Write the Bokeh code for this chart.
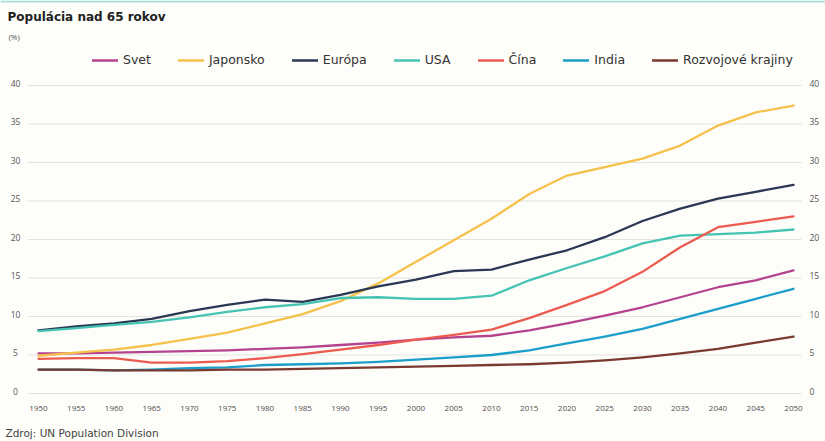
from bokeh.plotting import figure
from bokeh.models import Range1d, Legend, LegendItem, Label
from bokeh.core.properties import value
from bokeh.embed import file_html
from bokeh.resources import INLINE

# ---------------- data ----------------
years = [1950, 1955, 1960, 1965, 1970, 1975, 1980, 1985, 1990, 1995, 2000,
         2005, 2010, 2015, 2020, 2025, 2030, 2035, 2040, 2045, 2050]
svet = [5.2, 5.2, 5.3, 5.4, 5.5, 5.6, 5.8, 6.0, 6.3, 6.6, 7.0,
        7.3, 7.5, 8.2, 9.1, 10.1, 11.2, 12.5, 13.8, 14.7, 16.0]
japonsko = [4.9, 5.3, 5.7, 6.3, 7.1, 7.9, 9.1, 10.3, 12.0, 14.3, 17.1,
            19.9, 22.7, 25.9, 28.3, 29.4, 30.5, 32.2, 34.8, 36.5, 37.4]
europa = [8.2, 8.7, 9.1, 9.7, 10.7, 11.5, 12.2, 11.9, 12.8, 13.9, 14.8,
          15.9, 16.1, 17.4, 18.6, 20.3, 22.4, 24.0, 25.3, 26.2, 27.1]
usa = [8.1, 8.5, 8.9, 9.3, 9.9, 10.6, 11.2, 11.6, 12.4, 12.5, 12.3,
       12.3, 12.7, 14.7, 16.3, 17.8, 19.5, 20.5, 20.7, 20.9, 21.3]
cina = [4.5, 4.6, 4.6, 4.0, 4.0, 4.2, 4.6, 5.1, 5.7, 6.3, 7.0,
        7.6, 8.3, 9.8, 11.5, 13.3, 15.8, 19.0, 21.6, 22.3, 23.0]
india = [3.1, 3.1, 3.0, 3.1, 3.3, 3.4, 3.7, 3.8, 3.9, 4.1, 4.4,
         4.7, 5.0, 5.6, 6.5, 7.4, 8.4, 9.7, 11.0, 12.3, 13.6]
rozvojove = [3.1, 3.1, 3.0, 3.0, 3.0, 3.1, 3.1, 3.2, 3.3, 3.4, 3.5,
             3.6, 3.7, 3.8, 4.0, 4.3, 4.7, 5.2, 5.8, 6.6, 7.4]

series_names = ["Svet", "Japonsko", "Európa", "USA", "Čína", "India", "Rozvojové krajiny"]
series_values = [svet, japonsko, europa, usa, cina, india, rozvojove]
series_colors = ["#b5428f", "#f5c14a", "#2a3853", "#45c3b3", "#ec5b50", "#1b9fca", "#7a3a31"]

y_ticks = [0, 5, 10, 15, 20, 25, 30, 35, 40]
y_tick_labels = ["0", "5", "10", "15", "20", "25", "30", "35", "40"]
x_ticks = years
x_tick_labels = [str(y) for y in years]

title_text = "Populácia nad 65 rokov"
unit_text = "(%)"
source_text = "Zdroj: UN Population Division"

# ---------------- layout (canvas pixels) ----------------
W, H = 825, 441
XPX = 7.55          # px per year
X1950 = 38          # canvas x of 1950
YPX = 7.7           # px per percent
Y0 = 393            # canvas y of value 0

def cx(px):         # canvas x -> data x
    return 1950 + (px - X1950) / XPX

def cy(py):         # canvas y (from top) -> data y
    return (Y0 - py) / YPX

FONT = "DejaVu Sans"
TICK_FONT = "Open Sans"
BG = "#fdfdf9"

p = figure(width=W, height=H, output_backend="svg", toolbar_location=None,
           x_range=Range1d(cx(0), cx(W)), y_range=Range1d(cy(H), cy(0)),
           min_border=0, background_fill_color=BG, border_fill_color=BG,
           outline_line_color=None, x_axis_location=None, y_axis_location=None)
p.xgrid.visible = False
p.ygrid.visible = False

# horizontal grid lines
p.segment(x0=[cx(27)] * len(y_ticks), x1=[cx(801)] * len(y_ticks),
          y0=y_ticks, y1=y_ticks, line_color="#e3e3df", line_width=1)

# tick labels
p.text(x=[cx(15)] * len(y_ticks), y=y_ticks, text=y_tick_labels,
       text_align="center", text_baseline="alphabetic", y_offset=-2.5,
       text_font=value(TICK_FONT), text_font_size="8.5px", text_color="#555555")
p.text(x=[cx(809)] * len(y_ticks), y=y_ticks, text=y_tick_labels,
       text_align="left", text_baseline="alphabetic", y_offset=-2.5,
       text_font=value(TICK_FONT), text_font_size="8.5px", text_color="#555555")
p.text(x=x_ticks, y=[cy(408)] * len(x_ticks), text=x_tick_labels,
       text_align="center", text_baseline="middle",
       text_font=value(TICK_FONT), text_font_size="8px", text_color="#505050")

# top teal rule
p.quad(left=[cx(0)], right=[cx(W)], top=[cy(0)], bottom=[cy(2)],
       fill_color="#a9ddd8", line_color=None)

items = []
for name, vals, col in zip(series_names, series_values, series_colors):
    r = p.line(years, vals, line_color=col, line_width=2.3, line_join="round",
               line_cap="round")
    items.append(LegendItem(label=name, renderers=[r]))

legend = Legend(items=items, orientation="horizontal", location=(92, H - 67),
                glyph_width=26, glyph_height=14, label_height=14,
                label_standoff=5, spacing=27, padding=0, margin=0,
                border_line_alpha=0, background_fill_alpha=0,
                label_text_font=FONT, label_text_font_size="12.5px",
                label_text_color="#333333")
p.add_layout(legend, "center")

p.add_layout(Label(x=7, y=H - 23, x_units="screen", y_units="screen",
                   text=title_text, text_font=FONT, text_font_size="12px",
                   text_font_style="bold", text_color="#222222"))
p.add_layout(Label(x=8, y=H - 41, x_units="screen", y_units="screen",
                   text=unit_text, text_font=TICK_FONT, text_font_size="8px",
                   text_color="#555555"))
p.add_layout(Label(x=5, y=H - 438, x_units="screen", y_units="screen",
                   text=source_text, text_font=FONT, text_font_size="10.5px",
                   text_color="#444444"))

with open("out.html", "w") as f:
    f.write(file_html(p, INLINE))
